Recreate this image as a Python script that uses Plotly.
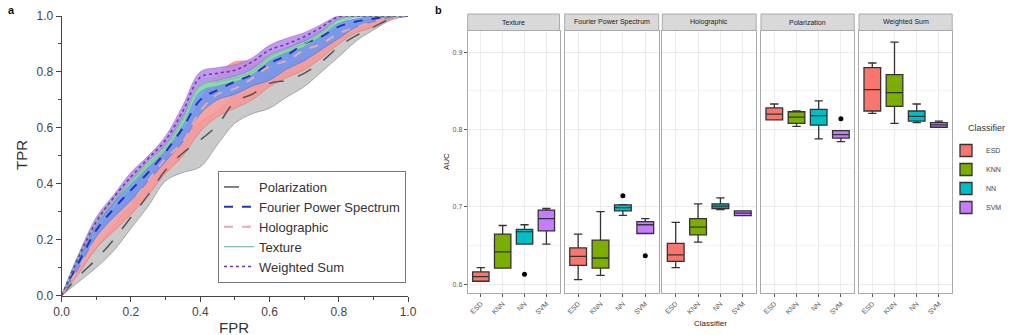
import plotly.graph_objects as go

W, H = 1011, 335

# ---------------- Panel a data (ROC curves) ----------------
FPR = [0, 0.05, 0.1, 0.15, 0.2, 0.25, 0.3, 0.35, 0.4, 0.45, 0.5,
       0.55, 0.6, 0.65, 0.7, 0.75, 0.8, 0.85, 0.9, 0.95, 1.0]

pol_mean = [0, 0.07, 0.13, 0.2, 0.28, 0.36, 0.449, 0.51, 0.556, 0.61, 0.693, 0.72, 0.759, 0.77, 0.795, 0.836, 0.89, 0.93, 0.96, 0.99, 1]
pol_low = [0, 0.05, 0.1, 0.16, 0.24, 0.32, 0.41, 0.44, 0.46, 0.54, 0.616, 0.65, 0.67, 0.71, 0.747, 0.8, 0.854, 0.91, 0.95, 0.985, 1]
pol_up = [0, 0.09, 0.17, 0.25, 0.33, 0.42, 0.5, 0.57, 0.62, 0.66, 0.72, 0.76, 0.79, 0.82, 0.85, 0.88, 0.92, 0.95, 0.98, 0.995, 1]

holo_mean = [0, 0.1, 0.2, 0.26, 0.33, 0.41, 0.49, 0.55, 0.66, 0.72, 0.74, 0.777, 0.82, 0.84, 0.878, 0.9, 0.938, 0.96, 0.98, 0.995, 1]
holo_low = [0, 0.08, 0.17, 0.23, 0.29, 0.36, 0.437, 0.5, 0.586, 0.64, 0.67, 0.7, 0.747, 0.78, 0.807, 0.85, 0.9, 0.94, 0.96, 0.99, 1]
holo_up = [0, 0.12, 0.234, 0.31, 0.38, 0.46, 0.544, 0.59, 0.7, 0.79, 0.836, 0.84, 0.86, 0.88, 0.9, 0.93, 0.96, 0.98, 0.99, 1, 1]

fps_mean = [0, 0.12, 0.234, 0.31, 0.377, 0.44, 0.514, 0.6, 0.7, 0.735, 0.765, 0.79, 0.83, 0.86, 0.9, 0.926, 0.962, 0.98, 0.99, 1, 1]
fps_low = [0, 0.1, 0.21, 0.28, 0.34, 0.41, 0.48, 0.55, 0.65, 0.7, 0.72, 0.75, 0.77, 0.81, 0.84, 0.88, 0.92, 0.96, 0.98, 0.995, 1]
fps_up = [0, 0.13, 0.25, 0.33, 0.4, 0.47, 0.54, 0.63, 0.76, 0.775, 0.79, 0.82, 0.85, 0.885, 0.92, 0.95, 0.975, 0.99, 1, 1, 1]

tex_mean = [0, 0.14, 0.26, 0.34, 0.41, 0.47, 0.53, 0.63, 0.753, 0.765, 0.777, 0.8, 0.854, 0.88, 0.9, 0.94, 0.986, 1, 1, 1, 1]
tex_low = [0, 0.13, 0.25, 0.33, 0.4, 0.46, 0.52, 0.61, 0.73, 0.75, 0.765, 0.79, 0.84, 0.87, 0.89, 0.93, 0.975, 0.995, 1, 1, 1]
tex_up = [0, 0.15, 0.27, 0.35, 0.42, 0.48, 0.545, 0.65, 0.77, 0.78, 0.79, 0.815, 0.865, 0.89, 0.91, 0.95, 0.993, 1, 1, 1, 1]

ws_mean = [0, 0.14, 0.264, 0.35, 0.425, 0.49, 0.556, 0.66, 0.78, 0.795, 0.806, 0.836, 0.878, 0.9, 0.926, 0.96, 0.998, 1, 1, 1, 1]
ws_low = [0, 0.13, 0.25, 0.33, 0.41, 0.48, 0.54, 0.64, 0.75, 0.77, 0.785, 0.81, 0.86, 0.885, 0.91, 0.945, 0.99, 1, 1, 1, 1]
ws_up = [0, 0.15, 0.28, 0.36, 0.44, 0.5, 0.57, 0.68, 0.8, 0.815, 0.825, 0.85, 0.895, 0.92, 0.94, 0.97, 1, 1, 1, 1, 1]

AX_TICKS = [0.0, 0.2, 0.4, 0.6, 0.8, 1.0]
AX_TICKTEXT = ["0.0", "0.2", "0.4", "0.6", "0.8", "1.0"]

# ---------------- Panel b data (AUC box plots) ----------------
FEATURES = ["Texture", "Fourier Power Spectrum", "Holographic", "Polarization", "Weighted Sum"]
CLASSIFIERS = ["ESD", "KNN", "NN", "SVM"]

esd_lo = [0.604, 0.606, 0.6215, 0.8126, 0.821]
esd_q1 = [0.604, 0.6245, 0.6296, 0.8126, 0.824]
esd_med = [0.610, 0.636, 0.638, 0.820, 0.8515]
esd_q3 = [0.616, 0.647, 0.6528, 0.828, 0.880]
esd_hi = [0.6215, 0.665, 0.680, 0.833, 0.886]

knn_lo = [0.621, 0.6116, 0.6545, 0.804, 0.808]
knn_q1 = [0.621, 0.621, 0.664, 0.808, 0.830]
knn_med = [0.642, 0.634, 0.674, 0.816, 0.8476]
knn_q3 = [0.665, 0.657, 0.685, 0.823, 0.871]
knn_hi = [0.676, 0.694, 0.704, 0.824, 0.913]

nn_lo = [0.652, 0.689, 0.6966, 0.788, 0.809]
nn_q1 = [0.652, 0.695, 0.698, 0.8056, 0.811]
nn_med = [0.668, 0.699, 0.701, 0.818, 0.817]
nn_q3 = [0.671, 0.7026, 0.704, 0.826, 0.824]
nn_hi = [0.677, 0.703, 0.7116, 0.837, 0.833]

svm_lo = [0.652, 0.6657, 0.6888, 0.7844, 0.803]
svm_q1 = [0.669, 0.6657, 0.6888, 0.789, 0.803]
svm_med = [0.685, 0.677, 0.692, 0.7935, 0.806]
svm_q3 = [0.696, 0.681, 0.6948, 0.7987, 0.809]
svm_hi = [0.698, 0.685, 0.695, 0.7987, 0.811]

OUT_FEATURE = ["Texture", "Fourier Power Spectrum", "Fourier Power Spectrum", "Polarization"]
OUT_CLASS = ["NN", "NN", "SVM", "SVM"]
OUT_VALUE = [0.613, 0.7146, 0.637, 0.814]

B_TICKS = [0.6, 0.7, 0.8, 0.9]

# ---------------- styling ----------------
FONT = "Liberation Sans, Arial, sans-serif"
CLS_COLORS = {"ESD": "#F8766D", "KNN": "#7CAE00", "NN": "#00BFC4", "SVM": "#C77CFF"}

fig = go.Figure()

# ---- Panel a bands ----
bands = [
    (pol_low, pol_up, "rgba(195,195,195,0.88)", "rgba(120,120,120,0.8)"),
    (holo_low, holo_up, "rgba(246,150,150,0.88)", "rgba(225,110,110,0.8)"),
    (fps_low, fps_up, "rgba(105,150,240,0.88)", "rgba(70,110,220,0.8)"),
    (tex_low, tex_up, "rgba(140,225,170,0.88)", "rgba(90,190,130,0.8)"),
    (ws_low, ws_up, "rgba(185,140,235,0.88)", "rgba(140,95,205,0.8)"),
]
for lo, up, fill, edge in bands:
    fig.add_trace(go.Scatter(x=FPR, y=lo, mode="lines", line=dict(color=edge, width=0.7, shape="spline"),
                             showlegend=False, hoverinfo="skip", xaxis="x", yaxis="y"))
    fig.add_trace(go.Scatter(x=FPR, y=up, mode="lines", line=dict(color=edge, width=0.7, shape="spline"),
                             fill="tonexty", fillcolor=fill, showlegend=False, hoverinfo="skip",
                             xaxis="x", yaxis="y"))

means = [
    ("Polarization", pol_mean, "#555555", "longdash", 1.5),
    ("Fourier Power Spectrum", fps_mean, "#2233bb", "dash", 2.0),
    ("Holographic", holo_mean, "#e8a8b0", "dash", 2.0),
    ("Texture", tex_mean, "#86c0a4", "solid", 1.3),
    ("Weighted Sum", ws_mean, "#6a3aa8", "dot", 1.6),
]
for name, m, col, dash, w in means:
    fig.add_trace(go.Scatter(x=FPR, y=m, mode="lines", name=name,
                             line=dict(color=col, dash=dash, width=w, shape="spline"),
                             xaxis="x", yaxis="y", legend="legend"))

# ---- Panel b boxes ----
cls_stats = {
    "ESD": (esd_lo, esd_q1, esd_med, esd_q3, esd_hi),
    "KNN": (knn_lo, knn_q1, knn_med, knn_q3, knn_hi),
    "NN": (nn_lo, nn_q1, nn_med, nn_q3, nn_hi),
    "SVM": (svm_lo, svm_q1, svm_med, svm_q3, svm_hi),
}
for fi, feat in enumerate(FEATURES):
    xa = "x%d" % (fi + 2)
    ya = "y%d" % (fi + 2)
    for cls in CLASSIFIERS:
        lo, q1, med, q3, hi = cls_stats[cls]
        fig.add_trace(go.Box(
            x=[cls], q1=[q1[fi]], median=[med[fi]], q3=[q3[fi]],
            lowerfence=[lo[fi]], upperfence=[hi[fi]],
            name=cls, width=0.75, fillcolor=CLS_COLORS[cls],
            line=dict(color="#333333", width=1.3),
            boxpoints=False, xaxis=xa, yaxis=ya,
            legend="legend2", legendgroup=cls, showlegend=(fi == 0),
            hoverinfo="skip"))
    ox = [c for f, c in zip(OUT_FEATURE, OUT_CLASS) if f == feat]
    oy = [v for f, v in zip(OUT_FEATURE, OUT_VALUE) if f == feat]
    if ox:
        fig.add_trace(go.Scatter(x=ox, y=oy, mode="markers",
                                 marker=dict(color="black", size=5),
                                 xaxis=xa, yaxis=ya, showlegend=False, hoverinfo="skip"))

# ---------------- layout ----------------
def px_x(p):
    return p / W

def px_y(p):
    return 1 - p / H

layout = dict(
    width=W, height=H, margin=dict(l=0, r=0, t=0, b=0, autoexpand=False),
    paper_bgcolor="white", plot_bgcolor="white",
    font=dict(family=FONT, color="#333333"),
    boxmode="overlay",
    xaxis=dict(domain=[px_x(61.7), px_x(408)], range=[0, 1], anchor="y", automargin=False,
               tickvals=AX_TICKS, ticktext=AX_TICKTEXT, ticks="outside", ticklen=5,
               tickcolor="#444", showline=True, linecolor="#444", linewidth=1,
               showgrid=False, zeroline=False, tickfont=dict(size=12, color="#444"),
               minor=dict(dtick=0.1, ticks="outside", ticklen=3, tickcolor="#444", showgrid=False)),
    yaxis=dict(domain=[px_y(295.5), px_y(16)], range=[0, 1], anchor="x", automargin=False,
               tickvals=AX_TICKS, ticktext=AX_TICKTEXT, ticks="outside", ticklen=5,
               tickcolor="#444", showline=True, linecolor="#444", linewidth=1,
               showgrid=False, zeroline=False, tickfont=dict(size=12, color="#444"),
               minor=dict(dtick=0.1, ticks="outside", ticklen=3, tickcolor="#444", showgrid=False)),
    legend=dict(x=px_x(406), xanchor="right", y=px_y(283), yanchor="bottom",
                bgcolor="white", bordercolor="#777", borderwidth=1,
                font=dict(size=13, color="#333"), tracegroupgap=0,
                traceorder="normal"),
    legend2=dict(x=px_x(946), xanchor="left", y=px_y(136), yanchor="top",
                 font=dict(size=7, color="#444"), bgcolor="rgba(0,0,0,0)",
                 tracegroupgap=0, traceorder="normal"),
)

facet_px = [(467.7, 559.5), (564.7, 658.7), (662.3, 756.2), (761, 854.2), (859, 952.2)]
B_TOP, B_BOT = 30.5, 293
STRIP_TOP = 14
shapes = []
annotations = []
for fi, (x0, x1) in enumerate(facet_px):
    n = fi + 2
    layout["xaxis%d" % n] = dict(
        domain=[px_x(x0), px_x(x1)], anchor="y%d" % n, type="category", automargin=False,
        categoryorder="array", categoryarray=CLASSIFIERS, range=[-0.6, 3.6],
        showgrid=True, gridcolor="#ebebeb", gridwidth=1,
        ticks="outside", ticklen=3, tickcolor="#555", tickangle=-45,
        tickfont=dict(size=7, color="#555"),
        showline=True, mirror=True, linecolor="#aaaaaa", linewidth=1, zeroline=False)
    ya = dict(
        domain=[px_y(B_BOT), px_y(B_TOP)], anchor="x%d" % n, range=[0.5888, 0.928],
        tickvals=B_TICKS, showgrid=True, gridcolor="#ebebeb", gridwidth=1, automargin=False,
        minor=dict(dtick=0.05, showgrid=True, gridcolor="#f4f4f4"),
        showline=True, mirror=True, linecolor="#aaaaaa", linewidth=1, zeroline=False,
        tickfont=dict(size=7, color="#555"), ticks="outside", ticklen=3, tickcolor="#555")
    if n != 2:
        ya["showticklabels"] = False
        ya["ticks"] = ""
        ya["matches"] = "y2"
    layout["yaxis%d" % n] = ya
    shapes.append(dict(type="rect", xref="paper", yref="paper",
                       x0=px_x(x0), x1=px_x(x1), y0=px_y(B_TOP), y1=px_y(STRIP_TOP),
                       fillcolor="#d9d9d9", line=dict(color="#aaaaaa", width=1)))
    annotations.append(dict(text=FEATURES[fi], xref="paper", yref="paper",
                            x=px_x((x0 + x1) / 2), y=px_y((B_TOP + STRIP_TOP) / 2),
                            showarrow=False, font=dict(size=7, color="#1a1a1a"),
                            xanchor="center", yanchor="middle"))

annotations += [
    dict(text="<b>a</b>", xref="paper", yref="paper", x=px_x(6), y=px_y(10),
         showarrow=False, font=dict(size=11, color="#111"), xanchor="left", yanchor="middle"),
    dict(text="<b>b</b>", xref="paper", yref="paper", x=px_x(433), y=px_y(10),
         showarrow=False, font=dict(size=11, color="#111"), xanchor="left", yanchor="middle"),
    dict(text="TPR", xref="paper", yref="paper", x=px_x(21), y=px_y(155), textangle=-90,
         showarrow=False, font=dict(size=15, color="#333"), xanchor="center", yanchor="middle"),
    dict(text="FPR", xref="paper", yref="paper", x=px_x(234), y=px_y(327),
         showarrow=False, font=dict(size=15, color="#333"), xanchor="center", yanchor="middle"),
    dict(text="AUC", xref="paper", yref="paper", x=px_x(446), y=px_y(162), textangle=-90,
         showarrow=False, font=dict(size=8, color="#222"), xanchor="center", yanchor="middle"),
    dict(text="Classifier", xref="paper", yref="paper", x=px_x(710), y=px_y(323),
         showarrow=False, font=dict(size=8, color="#222"), xanchor="center", yanchor="middle"),
    dict(text="Classifier", xref="paper", yref="paper", x=px_x(966), y=px_y(128),
         showarrow=False, font=dict(size=9, color="#333"), xanchor="left", yanchor="middle"),
]
layout["shapes"] = shapes
layout["annotations"] = annotations

fig.update_layout(**layout)
fig.write_html("out.html")
